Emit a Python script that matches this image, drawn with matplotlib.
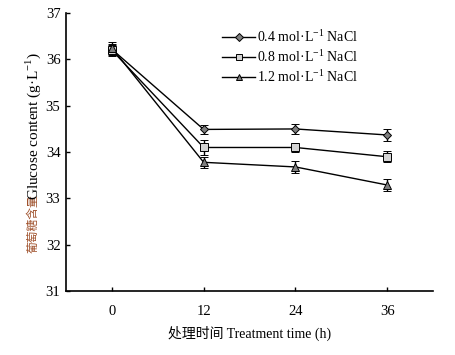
import matplotlib
matplotlib.use("Agg")
import matplotlib.pyplot as plt
from matplotlib.lines import Line2D

plt.rcParams['font.family'] = ['Liberation Serif', 'Noto Sans CJK SC']
plt.rcParams['mathtext.fontset'] = 'custom'
plt.rcParams['mathtext.rm'] = 'Liberation Serif'

# data
hours = [0, 12, 24, 36]
labels = ["0.4 mol·L$^{\\mathrm{-1}}$ NaCl", "0.8 mol·L$^{\\mathrm{-1}}$ NaCl",
          "1.2 mol·L$^{\\mathrm{-1}}$ NaCl"]
glu_04 = [36.22, 34.49, 34.50, 34.37]
glu_08 = [36.20, 34.10, 34.10, 33.90]
glu_12 = [36.25, 33.78, 33.68, 33.29]
err_04 = [0.12, 0.10, 0.10, 0.12]
err_08 = [0.12, 0.16, 0.10, 0.12]
err_12 = [0.12, 0.12, 0.12, 0.14]

markers = ["D", "s", "^"]
fills = ["#7f7f7f", "#d4d4d4", "#7f7f7f"]
sizes = [4.5, 5.5, 5.5]

fig = plt.figure(figsize=(4.55, 3.55), dpi=100)
ax = fig.add_axes([0.145, 0.180, 0.807, 0.783])

handles = []
for y, e, m, c, s, lab in zip([glu_04, glu_08, glu_12], [err_04, err_08, err_12],
                             markers, fills, sizes, labels):
    ax.errorbar(hours, y, yerr=e, color="black", lw=1.0, marker=m, ms=s,
                mfc=c, mec="black", mew=0.7, capsize=3, elinewidth=1.0,
                capthick=1.0)
    handles.append(Line2D([], [], color="black", lw=1.0, marker=m, ms=s - 0.5,
                          mfc=c, mec="black", mew=0.7, label=lab))

ax.set_xlim(-6, 42)
ax.set_ylim(31, 37)
ax.set_xticks(hours)
ax.set_yticks([31, 32, 33, 34, 35, 36, 37])
ax.spines['top'].set_visible(False)
ax.spines['right'].set_visible(False)
ax.tick_params(direction="in", length=3, labelsize=10.5, width=1)
ax.tick_params(axis="x", pad=10)
ax.tick_params(axis="y", pad=4)
for sp in ax.spines.values():
    sp.set_linewidth(1.2)

ax.set_xlabel("处理时间 Treatment time (h)", fontsize=10, labelpad=6)

# two-colour y label
fig.text(0.073, 0.287, "葡萄糖含量", rotation=90, ha="center", va="bottom",
         fontsize=8.5, color="#a0522d")
fig.text(0.073, 0.437, "Glucose content (g·L$^{\\mathrm{-1}}$)", rotation=90,
         ha="center", va="bottom", fontsize=11)

ax.legend(handles=handles, loc="upper left", bbox_to_anchor=(0.41, 0.965),
          frameon=False, fontsize=10, handlelength=2.4, handletextpad=0.1,
          labelspacing=0.25, borderaxespad=0)

fig.savefig("out.png", dpi=100)
